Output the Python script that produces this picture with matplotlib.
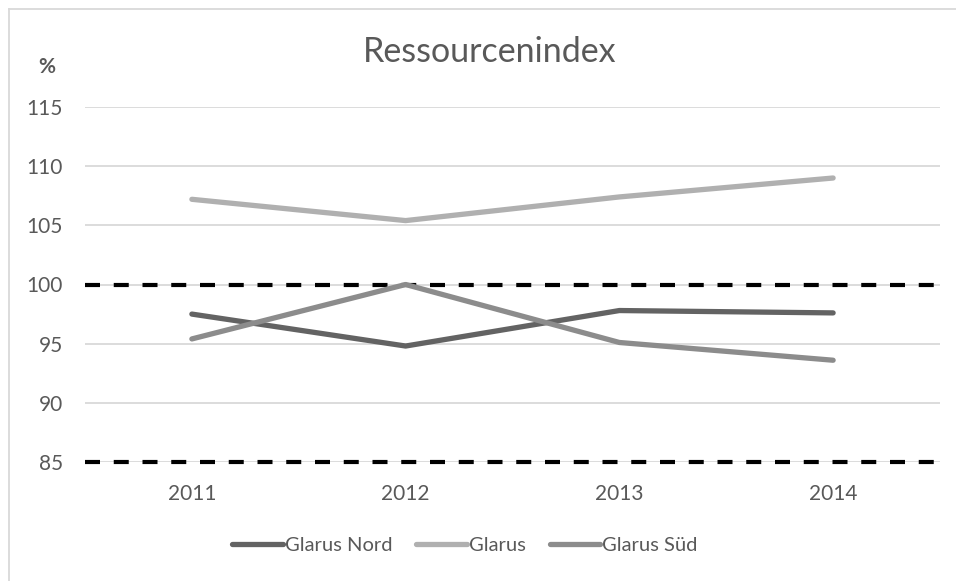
import numpy as np
import matplotlib.pyplot as plt
from matplotlib.lines import Line2D

plt.rcParams['font.family'] = ['Lato', 'DejaVu Sans']

years = ['2011', '2012', '2013', '2014']
glarus_nord = [97.5, 94.8, 97.8, 97.6]
glarus = [107.2, 105.4, 107.4, 109.0]
glarus_sued = [95.4, 100.0, 95.1, 93.6]
ref_levels = [100, 85]

txt = '#595959'
fig = plt.figure(figsize=(9.56, 5.81), dpi=100)
ax = fig.add_axes([85/956, 1-462/581, (940-85)/956, (462-107)/581])

x = np.arange(len(years))
# grid first, then the black dashed reference lines
for v in range(85, 116, 5):
    ax.axhline(v, color='#d9d9d9', lw=1.3, zorder=1)
for v in ref_levels:
    ax.axhline(v, color='black', lw=3, dashes=(3.6, 3.3), zorder=2, clip_on=False)

ax.plot(x, glarus_nord, color='#636363', lw=3.8, solid_capstyle='round', solid_joinstyle='round', label='Glarus Nord', zorder=3)
ax.plot(x, glarus, color='#b0b0b0', lw=3.8, solid_capstyle='round', solid_joinstyle='round', label='Glarus', zorder=3)
ax.plot(x, glarus_sued, color='#8c8c8c', lw=3.8, solid_capstyle='round', solid_joinstyle='round', label='Glarus Süd', zorder=3)

ax.set_xlim(-0.5, 3.5)
ax.set_ylim(85, 115)
ax.set_xticks(x)
ax.set_xticklabels(years)
ax.set_yticks(range(85, 116, 5))
ax.tick_params(length=0, labelsize=15, labelcolor=txt)
ax.tick_params(axis='y', pad=16)
ax.tick_params(axis='x', pad=16)
for s in ax.spines.values():
    s.set_visible(False)

fig.text(490/956, 1-52/581, 'Ressourcenindex', fontsize=24.5, color=txt, ha='center', va='center')
fig.text(47/956, 1-67/581, '%', fontsize=15, color=txt, ha='center', va='center', fontweight='bold')

leg = fig.legend(loc='center', bbox_to_anchor=(465/956, 1-545/581), ncol=3, frameon=False,
                 fontsize=14.5, handlelength=2.5, handletextpad=0.1, columnspacing=1.2)
for t in leg.get_texts():
    t.set_color(txt)
for h in leg.get_lines():
    h.set_linewidth(3.8)
    h.set_solid_capstyle('round')

# outer chart frame (only left and top visible)
fig.add_artist(Line2D([9/956, 9/956], [0, 1-9/581], color='#d9d9d9', lw=1.3))
fig.add_artist(Line2D([9/956, 1], [1-9/581, 1-9/581], color='#d9d9d9', lw=1.3))

fig.savefig('out.png', dpi=100)
